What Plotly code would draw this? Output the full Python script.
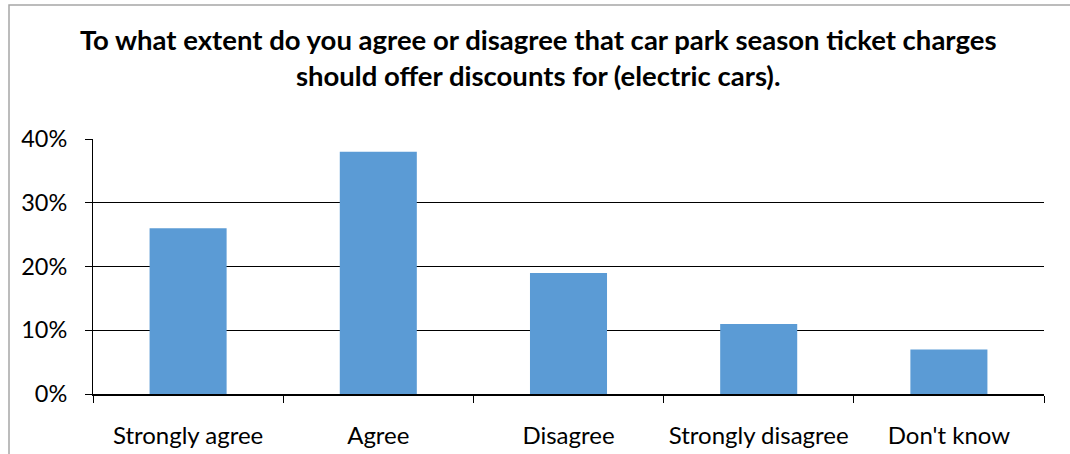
import plotly.graph_objects as go

categories = ["Strongly agree", "Agree", "Disagree", "Strongly disagree", "Don't know"]
values = [0.26, 0.38, 0.19, 0.11, 0.07]
tick_vals = [0, 0.1, 0.2, 0.3, 0.4]
tick_text = ["0%", "10%", "20%", "30%", "40%"]
title_text = ("To what extent do you agree or disagree that car park season ticket charges"
              "<br>should offer discounts for (electric cars).")

FONT = "Lato"

fig = go.Figure(go.Bar(
    x=categories, y=values, marker=dict(color="#5B9BD5", line=dict(width=0)),
    width=0.405,
))

fig.update_layout(
    width=1070, height=454,
    margin=dict(l=93, r=26, t=139, b=60, autoexpand=False),
    paper_bgcolor="white", plot_bgcolor="white",
    font=dict(family=FONT, color="black", size=22),
    title=dict(text="<b>" + title_text + "</b>", x=0.503, xanchor="center",
               y=0.889, yanchor="middle",
               font=dict(family=FONT, size=27.5, color="black")),
    showlegend=False,
    shapes=[dict(type="rect", xref="paper", yref="paper",
                 x0=(9 - 93) / 951, x1=1.2, y0=-1.0, y1=(394 - 5) / 255,
                 line=dict(color="#a6a6a6", width=1.5), layer="below")],
)
fig.update_xaxes(
    showline=True, linecolor="black", linewidth=2,
    ticks="outside", tickson="boundaries", ticklen=7, tickcolor="black",
    tickwidth=1, showgrid=False, tickfont=dict(size=24, family=FONT),
    tickangle=0, ticklabelstandoff=19, automargin=False,
)
fig.update_yaxes(
    range=[0, 0.4], tickvals=tick_vals, ticktext=tick_text,
    showline=True, linecolor="black", linewidth=1,
    ticks="outside", ticklen=7, tickcolor="black",
    showgrid=True, gridcolor="black", gridwidth=1, zeroline=False,
    tickfont=dict(size=23.5, family=FONT), automargin=False,
    ticklabelstandoff=13,
)

fig.write_html("out.html", config={"displayModeBar": False},
               post_script="document.body.style.margin='0';")
